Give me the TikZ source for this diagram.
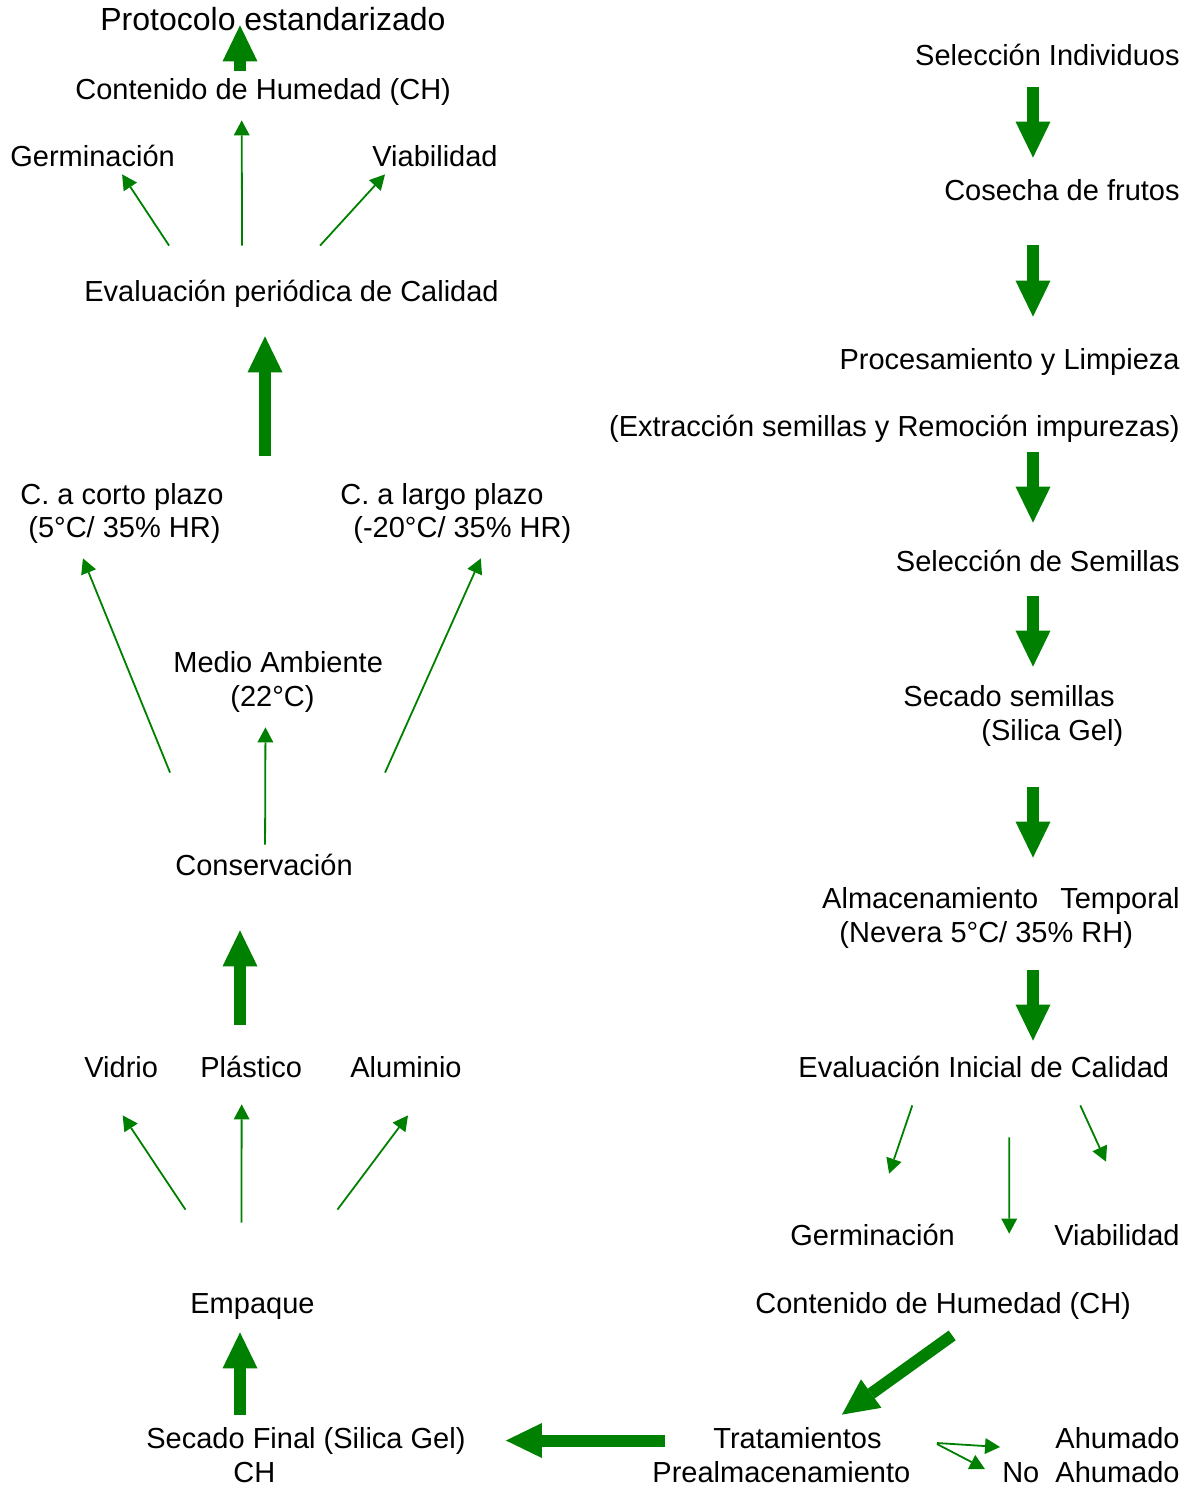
\documentclass[tikz,border=0pt]{standalone}
\usepackage{fontspec}
\setmainfont{Liberation Sans}
\usetikzlibrary{arrows.meta}
\definecolor{leafgreen}{RGB}{0,128,0}

\begin{document}
\begin{tikzpicture}[
    x=0.5pt, y=-0.5pt,
    txt/.style={anchor=base west, inner sep=0pt, text height=11pt, text depth=3.5pt, font=\fontsize{14.5pt}{17pt}\selectfont},
    txtr/.style={txt, anchor=base east},
    bigline/.style={draw=leafgreen, line width=6pt, -{Triangle[length=18pt,width=17.5pt,line width=0pt]}},
    thinline/.style={draw=leafgreen, line width=0.9pt, -{Triangle[length=7.5pt,width=8pt,line width=0pt]}}
]
    \useasboundingbox (0,0) rectangle (1197,1488);

    % left column
    \node [txt, font=\fontsize{16pt}{19pt}\selectfont] (proto) at (100,31) {Protocolo estandarizado};
    \node [txt] (chL) at (75,99) {Contenido de Humedad (CH)};
    \node [txt] (germL) at (10,166) {Germinación};
    \node [txt] (viabL) at (372,166) {Viabilidad};
    \node [txt] (evalP) at (84,301) {Evaluación periódica de Calidad};
    \node [txt] (corto) at (20,504) {C. a corto plazo};
    \node [txt] (corto2) at (28,537) {(5°C/ 35\% HR)};
    \node [txt] (largo) at (340,504) {C. a largo plazo};
    \node [txt] (largo2) at (353,537) {(-20°C/ 35\% HR)};
    \node [txt] (medio) at (173,672) {Medio Ambiente};
    \node [txt] (medio2) at (230,706) {(22°C)};
    \node [txt] (cons) at (175,875) {Conservación};
    \node [txt] (vidrio) at (84,1077) {Vidrio};
    \node [txt] (plast) at (200,1077) {Plástico};
    \node [txt] (alum) at (350,1077) {Aluminio};
    \node [txt] (empq) at (190,1313) {Empaque};
    \node [txt] (secF) at (146,1448) {Secado Final (Silica Gel)};
    \node [txt] (secF2) at (233,1482) {CH};

    % right column
    \node [txtr] (selI) at (1180,65) {Selección Individuos};
    \node [txtr] (cos) at (1180,200) {Cosecha de frutos};
    \node [txtr] (proc) at (1180,369) {Procesamiento y Limpieza};
    \node [txtr] (extr) at (1180,436) {(Extracción semillas y Remoción impurezas)};
    \node [txtr] (selS) at (1180,571) {Selección de Semillas};
    \node [txt] (secS) at (903,706) {Secado semillas};
    \node [txt] (secS2) at (981,740) {(Silica Gel)};
    \node [txtr] (alm) at (1180,908) {Almacenamiento\ \ \hspace{3pt}Temporal};
    \node [txt] (alm2) at (839,942) {(Nevera 5°C/ 35\% RH)};
    \node [txt] (evalI) at (798,1077) {Evaluación Inicial de Calidad};
    \node [txt] (germR) at (790,1245) {Germinación};
    \node [txtr] (viabR) at (1180,1245) {Viabilidad};
    \node [txt] (chR) at (755,1313) {Contenido de Humedad (CH)};
    \node [txt] (trat) at (713,1448) {Tratamientos};
    \node [txt] (trat2) at (652,1482) {Prealmacenamiento};
    \node [txtr] (ahu) at (1180,1448) {Ahumado};
    \node [txtr] (noahu) at (1180,1482) {No\ \ Ahumado};

    \coordinate (axL) at (240,0);
    \coordinate (axR) at (1033,0);
    \coordinate (opciones) at (265,456);

    % main flow (right side, downwards)
    \path [bigline, shorten <=7.5pt, shorten >=10pt] (selI.south -| axR) -- (cos.north -| axR);
    \path [bigline, shorten <=19pt, shorten >=15pt] (cos.south -| axR) -- (proc.north -| axR);
    \path [bigline, shorten <=4.5pt, shorten >=13pt] (extr.south -| axR) -- (selS.north -| axR);
    \path [bigline, shorten <=9pt, shorten >=8.5pt] (selS.south -| axR) -- (secS.north -| axR);
    \path [bigline, shorten <=20pt, shorten >=14pt] (secS2.south -| axR) -- (alm.north -| axR);
    \path [bigline, shorten <=10.5pt, shorten >=7pt] (alm2.south -| axR) -- (evalI.north -| axR);
    \path [bigline] ([shift={(9,15)}]chR.south) -- ([shift={(44.5,-11)}]trat.north);
    \path [bigline, shorten <=24pt, shorten >=20pt] (trat.west) -- (secF.east);

    % main flow (left side, upwards)
    \path [bigline, shorten <=5.5pt, shorten >=6pt] (secF.north -| axL) -- (empq.south -| axL);
    \path [bigline, shorten <=15pt, shorten >=24pt] (plast.north -| axL) -- (cons.south -| axL);
    \path [bigline, shorten >=14pt] (opciones) -- (evalP.south -| opciones);
    \path [bigline, shorten <=3pt, shorten >=-6.5pt] (chL.north -| axL) -- (proto.south -| axL);

    % branches
    \path [thinline] ([shift={(-71.5,21)}]evalI.south) -- ([shift={(16.5,-49)}]germR.north);
    \path [thinline] ([shift={(25.5,53)}]evalI.south) -- ([shift={(66,-57)}]chR.north);
    \path [thinline] ([shift={(96.5,21)}]evalI.south) -- ([shift={(-11,-61)}]viabR.north);
    \path [thinline] ([shift={(55,2.5)}]trat.east) -- ([shift={(-55,6.5)}]ahu.west);
    \path [thinline] ([shift={(55,3.5)}]trat.east) -- ([shift={(-17,-5.5)}]noahu.west);

    \path [thinline] ([shift={(-67,-81)}]empq.north) -- ([shift={(1.5,31)}]vidrio.south);
    \path [thinline] ([shift={(-11,-68)}]empq.north) -- ([shift={(-9.5,20)}]plast.south);
    \path [thinline] ([shift={(85,-81)}]empq.north) -- ([shift={(2,31)}]alum.south);

    \path [thinline] ([shift={(-94,-80)}]cons.north) -- ([shift={(-41.5,14)}]corto2.south);
    \path [thinline] ([shift={(1,-8)}]cons.north) -- ([shift={(-7,14)}]medio2.south);
    \path [thinline] ([shift={(121,-80)}]cons.north) -- ([shift={(18.5,14)}]largo2.south);

    \path [thinline] ([shift={(-122.5,-33)}]evalP.north) -- ([shift={(29.5,1)}]germL.south);
    \path [thinline] ([shift={(-49.5,-33)}]evalP.north) -- ([shift={(-21.5,14)}]chL.south);
    \path [thinline] ([shift={(28.5,-33)}]evalP.north) -- ([shift={(-50,1)}]viabL.south);
\end{tikzpicture}
\end{document}
